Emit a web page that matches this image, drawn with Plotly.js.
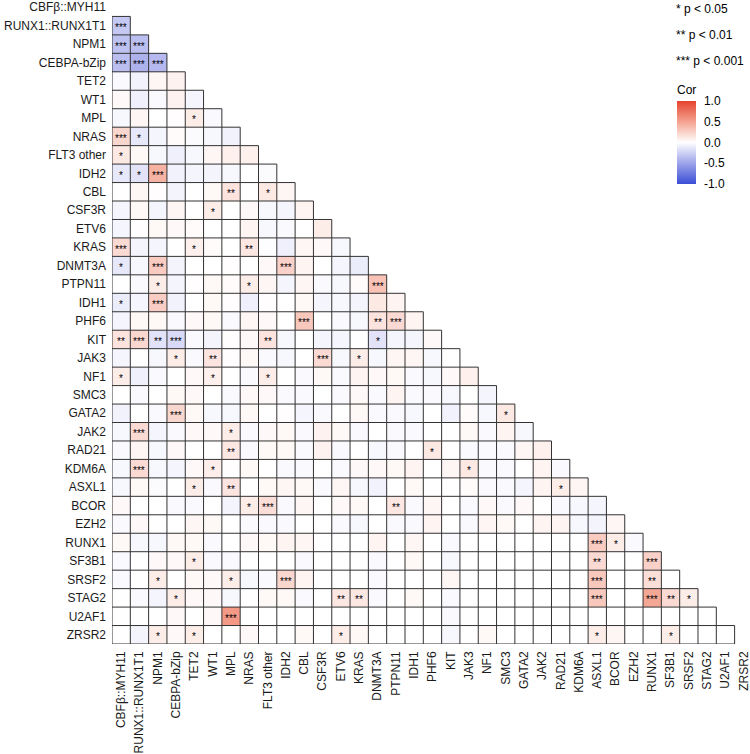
<!DOCTYPE html>
<html>
<head>
<meta charset="utf-8">
<script src="https://cdn.plot.ly/plotly-3.0.1.min.js"></script>
<style>html,body{margin:0;padding:0;background:#fff;}#chart{width:750px;height:754px;}</style>
</head>
<body>
<div id="chart"></div>
<script>
const genes = ["CBFβ::MYH11","RUNX1::RUNX1T1","NPM1","CEBPA-bZip","TET2","WT1","MPL","NRAS","FLT3 other","IDH2","CBL","CSF3R","ETV6","KRAS","DNMT3A","PTPN11","IDH1","PHF6","KIT","JAK3","NF1","SMC3","GATA2","JAK2","RAD21","KDM6A","ASXL1","BCOR","EZH2","RUNX1","SF3B1","SRSF2","STAG2","U2AF1","ZRSR2"];

// lower-triangle correlations: row i holds columns 0..i-1
const corrRows = [
  [],
  [-0.30],
  [-0.33,-0.35],
  [-0.35,-0.42,-0.38],
  [-0.03,-0.07,0.05,0.07],
  [0.03,-0.08,-0.03,0.07,-0.05],
  [-0.04,0.05,0,0.01,0.1,-0.03],
  [0.22,-0.12,-0.05,0.02,-0.02,-0.04,-0.07],
  [0.12,0.04,-0.04,-0.08,-0.04,0.05,0.08,0.08],
  [-0.12,-0.15,0.42,-0.07,-0.05,-0.06,-0.04,0,-0.02],
  [0,0.05,0.01,-0.06,0,0.04,0.15,0,0.12,0.05],
  [-0.05,0.04,-0.05,0.05,0,0.1,0,0.03,-0.04,-0.05,0.06],
  [-0.05,0.01,0.04,0.03,0.02,0,0,0.06,-0.04,-0.03,0,0.1],
  [0.2,-0.06,-0.05,0,0.08,0.02,0,0.13,-0.01,-0.08,0.05,0.03,-0.04],
  [-0.12,-0.04,0.28,-0.06,0,0,0.01,0,0.03,0.25,0.06,0,-0.05,-0.1],
  [0,-0.03,0.1,-0.05,0.01,0.04,0.02,0.1,0.05,-0.05,0.05,-0.03,-0.04,0.02,0.33],
  [-0.1,-0.05,0.27,-0.07,0,0.04,0.01,-0.08,0.01,0,0.04,-0.05,-0.04,-0.06,0.12,0.06],
  [-0.05,0.04,0.04,-0.03,0.03,0.04,-0.03,0.05,0.03,0,0.3,0,-0.03,-0.04,0.15,0.2,0.06],
  [0.15,0.22,-0.15,-0.2,-0.03,-0.06,0.01,0.03,0.15,-0.04,0,-0.05,-0.05,0,-0.15,-0.05,-0.05,0.03],
  [-0.05,0,-0.04,0.1,-0.03,0.14,0.01,0.04,-0.03,-0.04,0,0.2,-0.04,0.1,-0.04,0.05,0.05,-0.04,0],
  [0.1,-0.08,-0.03,0,0.03,0.08,0,-0.03,0.1,0,-0.03,0.04,-0.03,0.06,0.03,0.04,-0.03,-0.04,0.03,0.08],
  [0,-0.03,0,0.04,0.03,0,-0.03,0.03,0.03,-0.03,-0.03,0,-0.03,0.03,-0.03,0.06,-0.03,-0.03,-0.04,0,-0.05],
  [-0.07,0,-0.03,0.22,0.04,-0.04,-0.04,0.04,0,0.01,-0.05,-0.03,0,0.04,-0.03,-0.03,-0.04,0,-0.07,0.02,-0.04,0.12],
  [-0.04,0.2,-0.05,-0.03,0.03,0.03,0.1,-0.03,0.03,0.04,-0.03,0.07,0.04,-0.03,0,-0.03,-0.03,0,0,0.04,-0.03,0.06,-0.04],
  [-0.03,0.05,-0.04,0.03,0,0,0.13,-0.03,0.04,0.04,-0.03,0.07,-0.03,0,-0.04,-0.03,0,0.12,0,-0.03,-0.03,-0.03,0.05,0.08],
  [-0.04,0.2,-0.04,-0.05,0.03,0.09,0.01,0.04,0,-0.03,-0.03,0,-0.03,0.03,0.03,0.04,0.06,0,0.05,0.12,-0.03,-0.03,0,0.06,-0.03],
  [-0.04,0.04,-0.02,0,0.1,-0.03,0.14,0,0.04,0.05,0.04,-0.03,0.05,-0.04,-0.07,0,0.04,0,0,0.02,-0.03,-0.03,-0.05,0.06,0.1,0.05],
  [0.03,0,0,-0.03,-0.03,0,-0.06,0.1,0.18,-0.03,0.05,0,0.03,0.04,0,0.13,-0.03,0.05,0,-0.03,0.03,-0.03,0.03,0,-0.03,-0.04,-0.05],
  [-0.03,0.03,0,0,0.05,0.04,0,-0.03,-0.03,-0.03,0,0,-0.03,-0.04,0,-0.03,-0.03,0.06,0,-0.03,0.05,0.04,0,0.06,0.06,-0.04,-0.06,0.05],
  [0.04,-0.04,-0.04,0.04,0.04,-0.03,0,0.03,0.04,0.06,0.05,0,0,0,0.06,0,0.05,0,-0.03,0,0,0,0,0,0,0,0.28,0.1,-0.03],
  [-0.03,0,0.03,0.03,0.1,-0.03,-0.03,0,0,0,-0.03,0,0,0,-0.03,0,0.04,0,-0.04,0,0,0,0,0,0,0,0.2,0,0,0.25],
  [-0.03,0,0.1,0,0.04,0.03,0.1,-0.04,-0.03,0.22,0.06,0,0,0,-0.03,0,0,0,0.05,0,0,0,0,0,0,0,0.3,0,0,0.18,0],
  [0,-0.03,-0.05,0.1,0.03,0.03,-0.04,0,0.04,0.04,-0.03,0,0.13,0.13,-0.03,0,0.04,0,-0.03,0,0,0,0,0,0,0,0.3,0,0,0.48,0.2,0.1],
  [0,0,0,0.03,0,0.03,0.55,0,0,0,0,0,0,0,0,0,0,0,-0.03,0,0,0,0,0,0,0,0,0,0,0,0,0,0],
  [0,-0.06,0.1,0.03,0.1,0,0,0.03,0,0,0.04,0,0.1,0.04,0,0,0,0,-0.04,0,0.04,0,0,0,0,0,0.1,0.05,0,0,0.1,0,0,0]
];

// significance: [row index, column index, number of stars]
const sigCells = [
  [1,0,3],[2,0,3],[2,1,3],[3,0,3],[3,1,3],[3,2,3],
  [6,4,1],[7,0,3],[7,1,1],[8,0,1],[9,0,1],[9,1,1],[9,2,3],
  [10,6,2],[10,8,1],[11,5,1],[13,0,3],[13,4,1],[13,7,2],
  [14,0,1],[14,2,3],[14,9,3],[15,2,1],[15,7,1],[15,14,3],
  [16,0,1],[16,2,3],[17,10,3],[17,14,2],[17,15,3],
  [18,0,2],[18,1,3],[18,2,2],[18,3,3],[18,8,2],[18,14,1],
  [19,3,1],[19,5,2],[19,11,3],[19,13,1],[20,0,1],[20,5,1],[20,8,1],
  [22,3,3],[22,21,1],[23,1,3],[23,6,1],[24,6,2],[24,17,1],
  [25,1,3],[25,5,1],[25,19,1],[26,4,1],[26,6,2],[26,24,1],
  [27,7,1],[27,8,3],[27,15,2],[29,26,3],[29,27,1],
  [30,4,1],[30,26,2],[30,29,3],
  [31,2,1],[31,6,1],[31,9,3],[31,26,3],[31,29,2],
  [32,3,1],[32,12,2],[32,13,2],[32,26,3],[32,29,3],[32,30,2],[32,31,1],
  [33,6,3],[34,2,1],[34,4,1],[34,12,1],[34,26,1],[34,30,1]
];

const colorTicks = [-1, -0.5, 0, 0.5, 1];
const legendLabels = ["* p < 0.05", "** p < 0.01", "*** p < 0.001"];

corrRows.forEach((r, i) => { if (r.length !== i) throw new Error("row " + i + " has " + r.length); });

const n = genes.length;
const idx = genes.map((g, i) => i);
const z = idx.map(i => idx.map(j => (j < i ? corrRows[i][j] : null)));

// cell outlines (staircase grid)
const lx = [], ly = [];
for (let r = 1; r < n; r++) { lx.push(-0.5, r - 0.5, null); ly.push(r - 0.5, r - 0.5, null); }
lx.push(-0.5, n - 1.5, null); ly.push(n - 0.5, n - 0.5, null);
for (let c = 0; c < n; c++) { lx.push(c - 0.5, c - 0.5, null); ly.push(Math.max(c - 0.5, 0.5), n - 0.5, null); }

const font = "Liberation Sans, Arial, sans-serif";

const heat = {
  type: "heatmap", x: idx, y: idx, z: z, zmin: -1, zmax: 1,
  colorscale: [[0, "#3A4ED6"], [0.25, "#9DA3EA"], [0.5, "#FFFFFF"], [0.75, "#F4A390"], [1, "#E5432E"]],
  hoverongaps: false,
  colorbar: {
    title: { text: "Cor", side: "top", font: { size: 12, color: "#000", family: font } },
    x: (677 - 112) / 638, xanchor: "left", y: 1 - 82 / 644, yanchor: "top",
    lenmode: "pixels", len: 102, thickness: 19, thicknessmode: "pixels",
    outlinewidth: 0, xpad: 0, ypad: 0,
    tickvals: colorTicks, ticktext: colorTicks.map(v => v.toFixed(1)),
    ticks: "outside", ticklen: 6, tickcolor: "rgba(0,0,0,0)",
    tickfont: { size: 12, color: "#000", family: font }
  }
};

const grid = {
  type: "scatter", mode: "lines", x: lx, y: ly, connectgaps: false,
  line: { color: "#333333", width: 1 }, hoverinfo: "skip", showlegend: false
};

const annotations = sigCells.map(([r, c, k]) => ({
  x: c, y: r, xref: "x", yref: "y", text: "*".repeat(k), showarrow: false,
  font: { size: 10, color: "#000", family: font }, yshift: -2
}));
legendLabels.forEach((t, i) => annotations.push({
  x: (674 - 112) / 638, y: 1 - (9 + 26 * i) / 644, xref: "paper", yref: "paper",
  xanchor: "left", yanchor: "middle", text: t, showarrow: false,
  font: { size: 12, color: "#000", family: font }
}));

const layout = {
  width: 750, height: 754,
  margin: { l: 112, r: 0, t: 0, b: 110, autoexpand: false },
  paper_bgcolor: "#fff", plot_bgcolor: "#fff",
  font: { family: font, size: 12, color: "#1a1a1a" },
  showlegend: false,
  xaxis: {
    range: [-0.5, 34.34], tickvals: idx, ticktext: genes, tickangle: -90,
    showgrid: false, zeroline: false, showline: false, ticks: "", ticklabelstandoff: 4,
    ticklabeloverflow: "allow",
    tickfont: { size: 12, color: "#1a1a1a", family: font }, fixedrange: true
  },
  yaxis: {
    range: [34.5, -0.39], tickvals: idx, ticktext: genes,
    showgrid: false, zeroline: false, showline: false, ticks: "", ticklabelstandoff: 5,
    tickfont: { size: 12, color: "#1a1a1a", family: font }, fixedrange: true
  },
  annotations: annotations
};

Plotly.newPlot("chart", [heat, grid], layout, { displayModeBar: false, staticPlot: true });
</script>
</body>
</html>
